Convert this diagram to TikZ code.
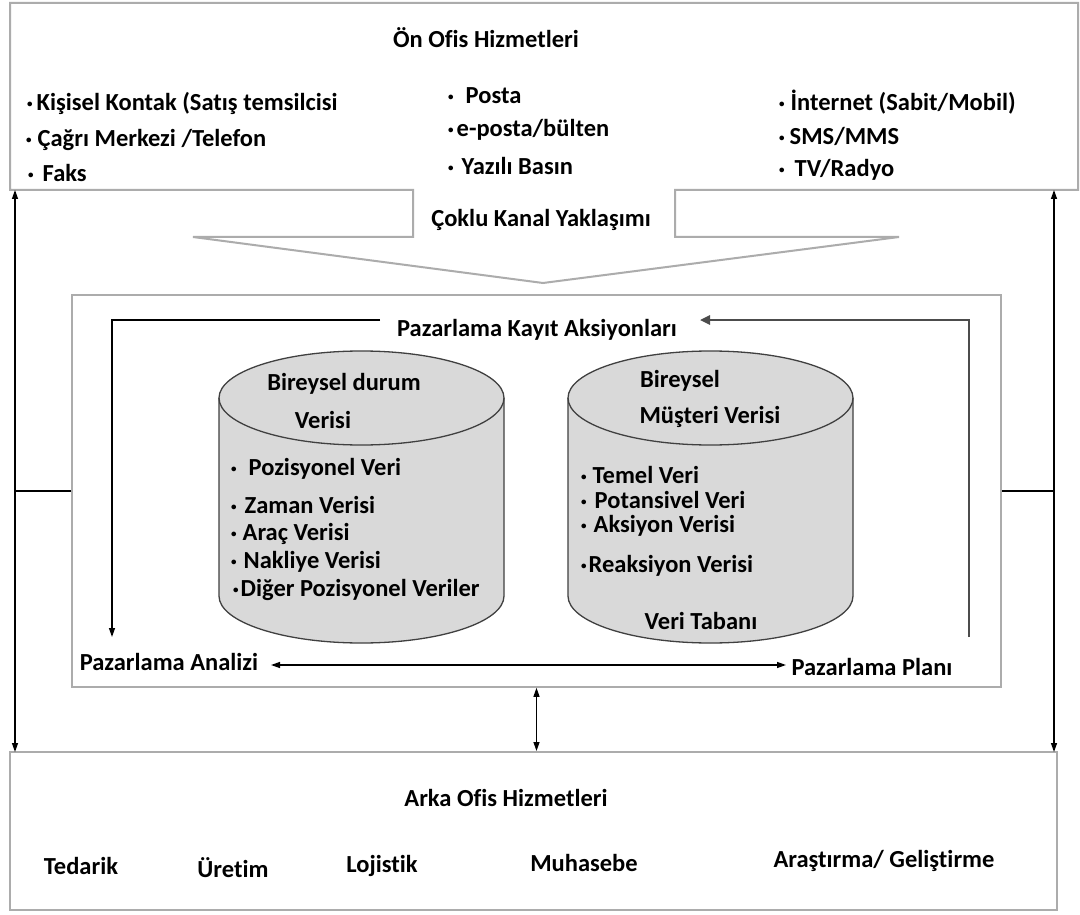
\documentclass[tikz,border=0pt]{standalone}
\usepackage{fontspec}
\setmainfont{Carlito}[RawFeature={-liga;-clig;-dlig}]
\usetikzlibrary{arrows.meta,calc}
\newcommand{\mybul}{{\fontsize{11}{11}\selectfont\raisebox{3pt}{•}}}
\tikzset{
  frame/.style={draw=gray!65, line width=2pt},
  conn/.style={draw=black, line width=1.3pt},
  tipa/.tip={Triangle[length=9pt,width=6pt]},
  lbl/.style={font=\fontsize{24.5}{28}\selectfont\bfseries, inner sep=0pt, text=black},
  item/.style={lbl, anchor=west},
  cyl/.style={draw=black!75, line width=1.3pt, fill=black!15},
  boxnode/.style={inner sep=0pt}
}
\begin{document}
\begin{tikzpicture}[x=1pt,y=-1pt]
\useasboundingbox (0,0) rectangle (1080,915);
\fill[white] (0,0) rectangle (1080,915);

% front office box with funnel
\node[boxnode, minimum width=1068pt, minimum height=187pt] (front) at (544,96.5) {};
\draw[frame, line join=miter] (10,3) -- (1078,3) -- (1078,190) -- (675,190) -- (675,237) -- (899,237)
  -- (543,283) -- (193,237) -- (413,237) -- (413,190) -- (10,190) -- cycle;
\node[lbl] (on) at (486,38) {Ön Ofis Hizmetleri};
\node[item] (f1) at (27,103) {\mybul\hspace{4pt}Kişisel Kontak (Satış temsilcisi};
\node[item] (f2) at (26,140) {\mybul\hspace{6pt}Çağrı Merkezi /Telefon};
\node[item] (f3) at (28,173) {\mybul\hspace{9pt}Faks};
\node[item] (f4) at (448,96) {\mybul\hspace{12pt}Posta};
\node[item] (f5) at (448,130) {\mybul\hspace{3pt}e-posta/bülten};
\node[item] (f6) at (448,166) {\mybul\hspace{8pt}Yazılı Basın};
\node[item] (f7) at (779,102) {\mybul\hspace{6pt}İnternet (Sabit/Mobil)};
\node[item] (f8) at (779,136) {\mybul\hspace{5pt}SMS/MMS};
\node[item] (f9) at (779,170) {\mybul\hspace{10pt}TV/Radyo};
\node[lbl] (cok) at (541,220) {Çoklu Kanal Yaklaşımı};

% middle box
\node[boxnode, draw=gray!65, line width=1.6pt, minimum width=929pt, minimum height=392pt] (mid) at (536.5,491) {};
% back office box
\node[boxnode, draw=gray!65, line width=2pt, minimum width=1047pt, minimum height=158pt] (back) at (533.5,831) {};
\node[lbl] (arka) at (506,798) {Arka Ofis Hizmetleri};
\node[lbl] (b1) at (81,866) {Tedarik};
\node[lbl] (b2) at (233,868) {Üretim};
\node[lbl] (b3) at (382,866) {Lojistik};
\node[lbl] (b4) at (584,863) {Muhasebe};
\node[lbl] (b5) at (884,861) {Araştırma/ Geliştirme};

% side connectors
\coordinate (lt) at (15,190); \coordinate (lbo) at (15,752);
\coordinate (rt) at (1054,190); \coordinate (rbo) at (1054,752);
\draw[conn, tipa-tipa] (lt) -- (lbo);
\draw[conn, tipa-tipa] (rt) -- (rbo);
\draw[conn] (mid.west) -- (mid.west -| lt);
\draw[conn] (mid.east) -- (mid.east -| rt);
\draw[conn, tipa-tipa] (mid.south) -- (mid.south |- back.north);

% inner labels and loops
\node[lbl] (pka) at (537,330) {Pazarlama Kayıt Aksiyonları};
\node[lbl] (ana) at (169,662) {Pazarlama Analizi};
\node[lbl] (pla) at (872,667) {Pazarlama Planı};
\coordinate (la) at (380,320); \coordinate (lb) at (112,637);
\draw[conn, -tipa] (la) -| (lb);
\coordinate (ra) at (969,637); \coordinate (rb) at (700,320);
\draw[draw=black!70, line width=2.4pt, -{Triangle[length=10pt,width=9pt]}] (ra) |- (rb);
\draw[conn, tipa-tipa] (271,665) coordinate (aa) -- (786,665) coordinate (ab);

% left cylinder
\draw[cyl] (219,398) -- (219,596) arc[start angle=180,end angle=360,x radius=142.5pt,y radius=47pt]
  -- (504,398) arc[start angle=0,end angle=180,x radius=142.5pt,y radius=47pt] -- cycle;
\draw[cyl, fill=none] (219,398) arc[start angle=180,end angle=360,x radius=142.5pt,y radius=47pt];
% right cylinder
\draw[cyl] (568,398) -- (568,596) arc[start angle=180,end angle=360,x radius=142.5pt,y radius=47pt]
  -- (853,398) arc[start angle=0,end angle=180,x radius=142.5pt,y radius=47pt] -- cycle;
\draw[cyl, fill=none] (568,398) arc[start angle=180,end angle=360,x radius=142.5pt,y radius=47pt];

\node[lbl] (c1a) at (344,384) {Bireysel durum};
\node[lbl] (c1b) at (323,420) {Verisi};
\node[item] (c11) at (231,469) {\mybul\hspace{12pt}Pozisyonel Veri};
\node[item] (c12) at (231,505) {\mybul\hspace{8pt}Zaman Verisi};
\node[item] (c13) at (231,534) {\mybul\hspace{6pt}Araç Verisi};
\node[item] (c14) at (231,562) {\mybul\hspace{7pt}Nakliye Verisi};
\node[item] (c15) at (233,590) {\mybul\hspace{2pt}Diğer Pozisyonel Veriler};

\node[lbl] (c2a) at (680,381) {Bireysel};
\node[lbl] (c2b) at (710,417) {Müşteri Verisi};
\node[item] (c21) at (581,475) {\mybul\hspace{6pt}Temel Veri};
\node[item] (c22) at (581,500) {\mybul\hspace{8pt}Potansivel Veri};
\node[item] (c23) at (581,526) {\mybul\hspace{7pt}Aksiyon Verisi};
\node[item] (c24) at (581,566) {\mybul\hspace{2pt}Reaksiyon Verisi};
\node[lbl] (c2c) at (701,621) {Veri Tabanı};
\end{tikzpicture}
\end{document}
